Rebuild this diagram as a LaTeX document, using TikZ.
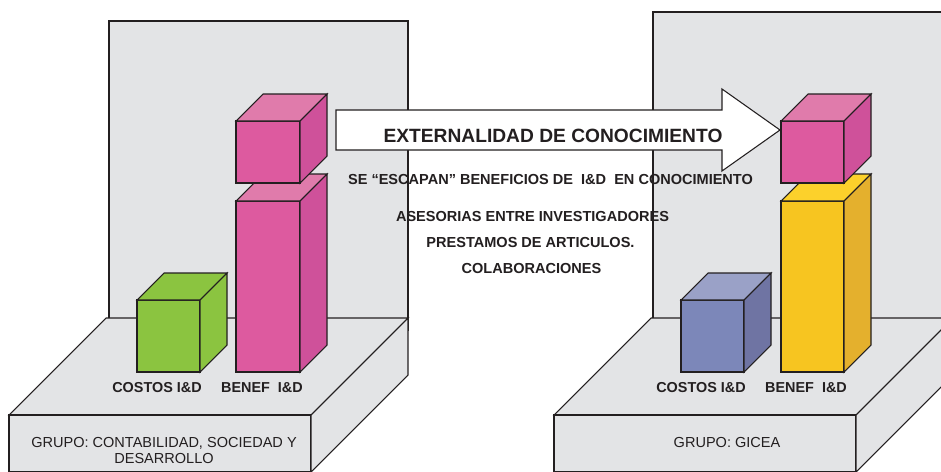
\documentclass[tikz,border=0pt]{standalone}
\usepackage{fontspec}
\setmainfont{Liberation Sans}
\definecolor{ink}{HTML}{231F20}
\definecolor{wall}{HTML}{E3E4E6}
\definecolor{pinkF}{HTML}{DD5A9F}
\definecolor{pinkT}{HTML}{E07BAB}
\definecolor{pinkS}{HTML}{CF519A}
\definecolor{greenF}{HTML}{8BC440}
\definecolor{greenT}{HTML}{8BC440}
\definecolor{greenS}{HTML}{8BC440}
\definecolor{blueF}{HTML}{7C87B9}
\definecolor{blueT}{HTML}{9AA1C7}
\definecolor{blueS}{HTML}{6F74A3}
\definecolor{yelF}{HTML}{F7C520}
\definecolor{yelT}{HTML}{FCD12B}
\definecolor{yelS}{HTML}{E4B02D}
\newcommand\mybar[5]{%
  % #1 x1, #2 x2, #3 ytop, #4 ybottom, #5 color prefix
  \filldraw[outl,fill=#5F] (#1,#3) rectangle (#2,#4);
  \filldraw[outl,fill=#5T] (#1,#3) -- ++(27,-27) -- (#2+27,#3-27) -- (#2,#3) -- cycle;
  \filldraw[outl,fill=#5S] (#2,#3) -- (#2+27,#3-27) -- (#2+27,#4-27) -- (#2,#4) -- cycle;
}
\newcommand\myplat[2]{%
  % #1 front-left x, #2 front-right x
  \filldraw[outl,fill=wall] (#1,415) -- (#1+97,318) -- (#2+97,318) -- (#2,415) -- cycle;
  \filldraw[outl,fill=wall] (#1,415) rectangle (#2,472);
  \filldraw[outl,fill=wall] (#2,415) -- (#2+97,318) -- (#2+97,375) -- (#2,472) -- cycle;
}
\tikzset{
  outl/.style={draw=ink,line width=0.8pt,line join=miter},
  big/.style={font=\bfseries\fontsize{14.4}{16}\selectfont,text=ink,anchor=base,inner sep=0pt},
  mid/.style={font=\bfseries\fontsize{10.9}{12}\selectfont,text=ink,anchor=base,inner sep=0pt},
  lab/.style={font=\bfseries\fontsize{10.8}{12}\selectfont,text=ink,anchor=base,inner sep=0pt},
  grp/.style={font=\fontsize{10.9}{13}\selectfont,text=ink,anchor=base,inner sep=0pt},
}
\begin{document}
\begin{tikzpicture}[x=0.75pt,y=-0.75pt]
\useasboundingbox (0,0) rectangle (941,471);
\clip (0,0) rectangle (941,471);
\fill[white] (0,0) rectangle (941,471);
% left panel
\filldraw[outl,fill=wall] (109,21) rectangle (408,330);
\myplat{9}{311}
\mybar{137}{200}{300}{372}{green}
\mybar{236}{300}{201}{372}{pink}
\mybar{236}{300}{121}{183}{pink}
\node[lab] (lc) at (157,392) {COSTOS I\&D};
\node[lab] (lb) at (262,392) {BENEF\ \ I\&D};
\node[grp] (lg1) at (164,447) {GRUPO: CONTABILIDAD, SOCIEDAD Y};
\node[grp] (lg2) at (164,463) {DESARROLLO};
% right panel
\filldraw[outl,fill=wall] (653,12) rectangle (960,330);
\myplat{554}{856}
% arrow
\filldraw[outl,fill=white] (336,110) -- (722,110) -- (722,89) -- (780,130) -- (722,171) -- (722,150) -- (336,150) -- cycle;
\node[big] (ext) at (553,142) {EXTERNALIDAD DE CONOCIMIENTO};
\mybar{681}{744}{300}{372}{blue}
\mybar{781}{844}{201}{372}{yel}
\mybar{781}{844}{121}{183}{pink}
\node[lab] (rc) at (701,392) {COSTOS I\&D};
\node[lab] (rb) at (806,392) {BENEF\ \ I\&D};
\node[grp] (rg) at (727,447) {GRUPO: GICEA};
% middle texts
\node[mid] (t1) at (550.5,184) {SE “ESCAPAN” BENEFICIOS DE\ \ I\&D\ \ EN CONOCIMIENTO};
\node[mid] (t2) at (532.5,221) {ASESORIAS ENTRE INVESTIGADORES};
\node[mid] (t3) at (530.5,247) {PRESTAMOS DE ARTICULOS.};
\node[mid] (t4) at (531.5,273) {COLABORACIONES};
\end{tikzpicture}
\end{document}
